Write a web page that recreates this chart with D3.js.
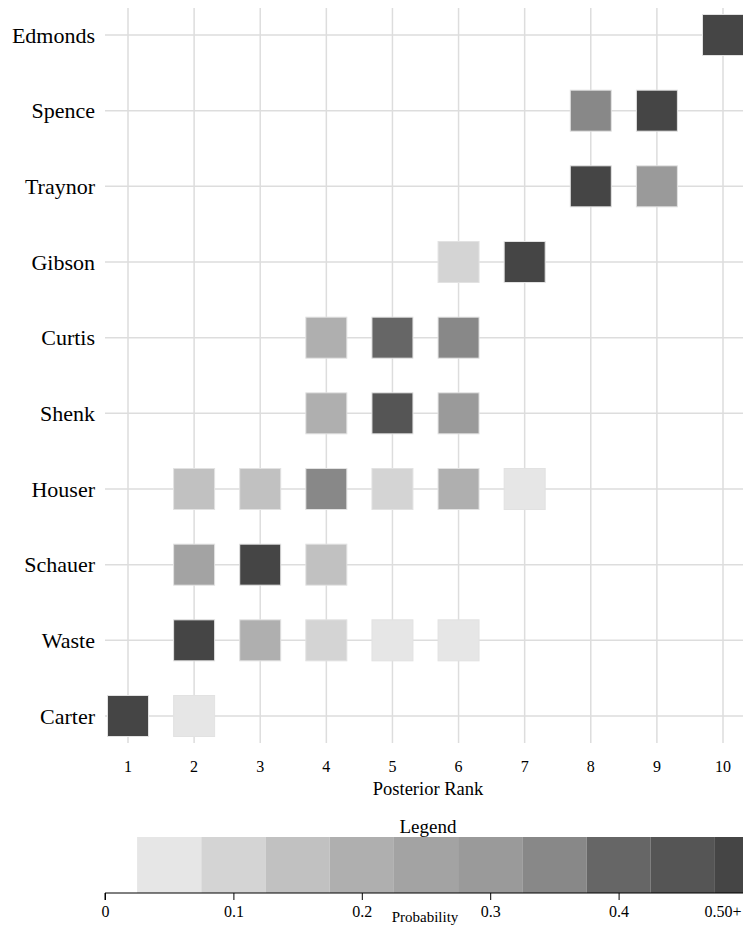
<!DOCTYPE html>
<html><head><meta charset="utf-8">
<script src="https://cdn.jsdelivr.net/npm/d3@7"></script>
<style>
html,body{margin:0;padding:0;background:#fff;overflow:hidden;}
svg{display:block;font-family:"Liberation Serif","Times New Roman",serif;}
</style></head>
<body><svg id="chart" width="743" height="930"></svg>
<script>
const players = ["Edmonds","Spence","Traynor","Gibson","Curtis","Shenk","Houser","Schauer","Waste","Carter"];
const ranks = [1,2,3,4,5,6,7,8,9,10];
// probability of each player (row) holding each rank (column 1..10); 0 = not drawn
const probabilities = [
  [0,0,0,0,0,0,0,0,0,0.99],
  [0,0,0,0,0,0,0,0.35,0.60,0],
  [0,0,0,0,0,0,0,0.63,0.30,0],
  [0,0,0,0,0,0.10,0.88,0,0,0],
  [0,0,0,0.20,0.40,0.35,0,0,0,0],
  [0,0,0,0.20,0.45,0.30,0,0,0,0],
  [0,0.15,0.15,0.35,0.10,0.20,0.05,0,0,0],
  [0,0.25,0.55,0.15,0,0,0,0,0,0],
  [0,0.55,0.20,0.10,0.05,0.05,0,0,0,0],
  [0.93,0.05,0,0,0,0,0,0,0,0]
];
const binEdges = [0.075,0.125,0.175,0.225,0.275,0.325,0.375,0.425,0.475];
const binColors = ["#e6e6e6","#d4d4d4","#c1c1c1","#afafaf","#a3a3a3","#9a9a9a","#888888","#666666","#555555","#454545"];
const legendTicks = [0,0.1,0.2,0.3,0.4,0.5];
const legendTickLabels = ["0","0.1","0.2","0.3","0.4","0.50+"];

const svg = d3.select("#chart");
const x = d3.scaleLinear().domain([1,10]).range([128,723]);
const y = d3.scalePoint().domain(players).range([35,716]);
const color = d3.scaleThreshold().domain(binEdges).range(binColors);
const cell = 41;

// grid
const grid = svg.append("g");
grid.selectAll("line.v").data(ranks).join("line")
  .attr("x1", d=>x(d)).attr("x2", d=>x(d)).attr("y1", 8).attr("y2", 743)
  .attr("stroke", "#dddddd").attr("stroke-width", 1.5);
grid.selectAll("line.h").data(players).join("line")
  .attr("x1", 105).attr("x2", 743).attr("y1", d=>y(d)).attr("y2", d=>y(d))
  .attr("stroke", "#dddddd").attr("stroke-width", 1.5);

// cells
const cells = [];
players.forEach((p,i)=>ranks.forEach((r,j)=>{ if(probabilities[i][j]>0) cells.push({p,r,v:probabilities[i][j]}); }));
svg.append("g").selectAll("rect").data(cells).join("rect")
  .attr("x", d=>x(d.r)-cell/2).attr("y", d=>y(d.p)-cell/2)
  .attr("width", cell).attr("height", cell)
  .attr("fill", d=>color(d.v)).attr("stroke","#e2e2e2").attr("stroke-width",1);

// row labels
svg.append("g").selectAll("text").data(players).join("text")
  .attr("x", 95).attr("y", d=>y(d)).attr("dy","0.35em")
  .attr("text-anchor","end").attr("font-size", 22).attr("fill","#000").text(d=>d);

// x tick labels
svg.append("g").selectAll("text").data(ranks).join("text")
  .attr("x", d=>x(d)).attr("y", 772)
  .attr("text-anchor","middle").attr("font-size", 16).attr("fill","#000").text(d=>d);
svg.append("text").attr("x", 428).attr("y", 795).attr("text-anchor","middle")
  .attr("font-size", 18.5).attr("fill","#000").text("Posterior Rank");

// legend
const lx = d3.scaleLinear().domain([0,0.5]).range([105,747]);
const lg = svg.append("g");
const bins = binColors.map((c,i)=>({c, a: i===0?0.025:binEdges[i-1], b: i===binColors.length-1?0.525:binEdges[i]}));
lg.selectAll("rect").data(bins).join("rect")
  .attr("x", d=>lx(d.a)).attr("y", 837).attr("width", d=>lx(d.b)-lx(d.a)).attr("height", 56)
  .attr("fill", d=>d.c);
lg.append("text").attr("x", 428).attr("y", 833).attr("text-anchor","middle")
  .attr("font-size", 19).attr("fill","#000").text("Legend");
const axis = d3.axisBottom(lx).tickValues(legendTicks).tickSize(7)
  .tickFormat((d,i)=>legendTickLabels[i]);
const ag = lg.append("g").attr("transform","translate(0,893)").call(axis);
ag.select(".domain").attr("d","M105,7V0H743").attr("stroke","#000");
ag.selectAll(".tick text").attr("font-family","Liberation Serif, serif").attr("font-size",16).attr("fill","#000").attr("dy","0.85em");
ag.selectAll(".tick").filter(d=>d===0.5).select("text").attr("text-anchor","end").attr("x",-6);
lg.append("text").attr("x", 425).attr("y", 922).attr("text-anchor","middle")
  .attr("font-size", 15).attr("fill","#000").text("Probability");
</script></body></html>
